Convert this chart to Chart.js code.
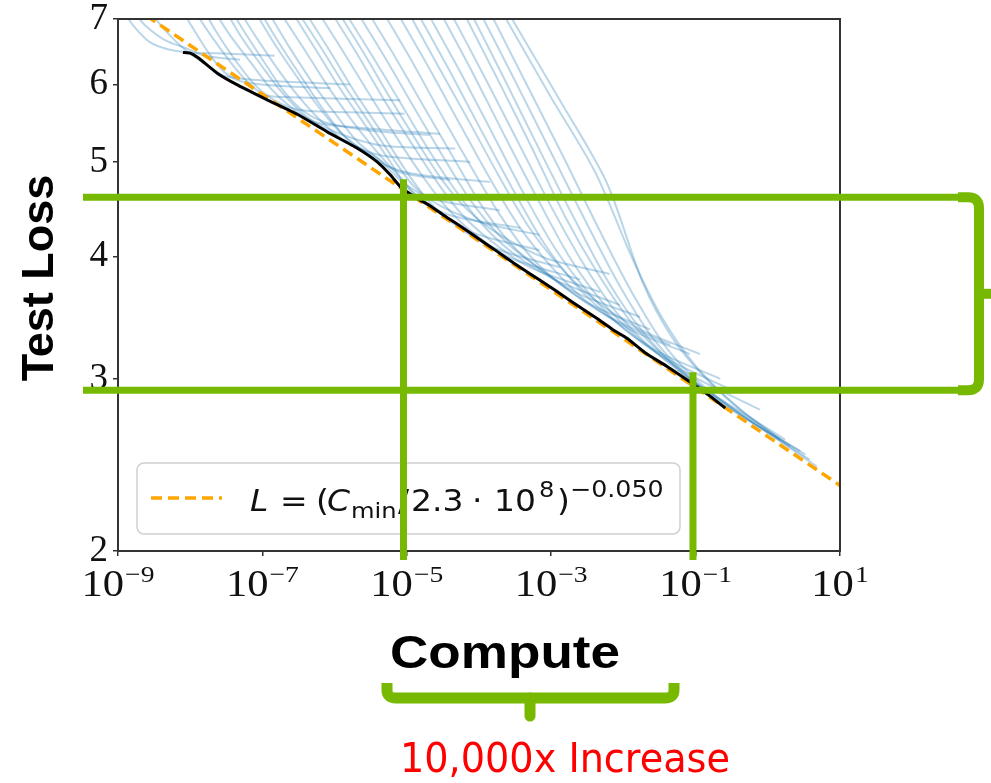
<!DOCTYPE html>
<html>
<head>
<meta charset="utf-8">
<script src="https://cdn.jsdelivr.net/npm/chart.js@4.4.1/dist/chart.umd.min.js"></script>
<style>
  html, body { margin: 0; padding: 0; background: #fff; }
  canvas { display: block; }
</style>
</head>
<body>
<canvas id="grafico" width="991" height="783"></canvas>
<script>
// compute is kept as log10(compute), loss as is
const xTickExps = [-9, -7, -5, -3, -1, 1];
const yTicks = [2, 3, 4, 5, 6, 7];

// power law fit shown in the legend: L = (C / 2.3e8) ^ -0.050
const fitScale = 2.3e8;
const fitExponent = 0.050;

// lower envelope of all runs
const frontier = [
  [-8.10, 6.47], [-8.00, 6.46], [-7.89, 6.39], [-7.61, 6.15], [-7.34, 5.99], [-6.92, 5.78],
  [-6.51, 5.59], [-6.09, 5.36], [-5.68, 5.16], [-5.41, 5.00], [-5.23, 4.85], [-5.07, 4.70],
  [-4.86, 4.59], [-4.68, 4.51], [-4.45, 4.39], [-4.22, 4.28], [-3.98, 4.16], [-3.75, 4.05],
  [-3.52, 3.94], [-3.29, 3.84], [-3.05, 3.74], [-2.84, 3.65], [-2.60, 3.55], [-2.37, 3.46],
  [-2.15, 3.37], [-1.95, 3.30], [-1.70, 3.19], [-1.40, 3.09], [-1.08, 2.98], [-0.80, 2.88],
  [-0.59, 2.80]
];

// learning curves, one per model size
const runs = [
  [[-8.92, 7.12], [-8.78, 6.88], [-8.56, 6.63], [-8.28, 6.51], [-8.00, 6.47], [-7.45, 6.45], [-6.83, 6.42]],
  [[-8.79, 7.12], [-8.61, 6.88], [-8.35, 6.66], [-8.07, 6.54], [-7.80, 6.42], [-7.31, 6.36]],
  [[-8.56, 7.12], [-8.35, 6.82], [-8.07, 6.51], [-7.80, 6.30], [-7.52, 6.12], [-7.03, 6.06], [-6.48, 6.03], [-5.79, 6.00]],
  [[-8.10, 7.12], [-7.93, 6.79], [-7.73, 6.44], [-7.52, 6.17], [-7.24, 6.03], [-6.62, 5.97], [-6.06, 5.95]],
  [[-7.93, 7.12], [-7.80, 6.88], [-7.59, 6.54], [-7.38, 6.24], [-7.17, 6.00], [-6.96, 5.85], [-6.48, 5.82], [-5.09, 5.78]],
  [[-7.80, 7.12], [-7.61, 6.74], [-7.38, 6.36], [-7.10, 5.99], [-6.83, 5.78], [-6.48, 5.65], [-5.79, 5.62], [-5.03, 5.60]],
  [[-7.66, 7.12], [-7.45, 6.74], [-7.17, 6.33], [-6.89, 5.95], [-6.62, 5.70], [-6.27, 5.49], [-5.65, 5.42], [-4.54, 5.34]],
  [[-7.50, 7.12], [-7.28, 6.69], [-7.01, 6.27], [-6.73, 5.89], [-6.41, 5.58], [-6.06, 5.39], [-5.37, 5.20], [-4.33, 5.16]],
  [[-7.42, 7.12], [-7.21, 6.72], [-6.96, 6.30], [-6.69, 5.89], [-6.41, 5.62], [-6.06, 5.47], [-5.37, 5.37], [-4.68, 5.33]],
  [[-7.31, 7.12], [-7.06, 6.66], [-6.76, 6.18], [-6.48, 5.81], [-6.17, 5.49], [-5.86, 5.26], [-5.37, 5.08], [-4.12, 5.00]],
  [[-7.10, 7.12], [-6.83, 6.60], [-6.53, 6.12], [-6.23, 5.70], [-5.93, 5.37], [-5.65, 5.16], [-5.30, 4.96], [-4.82, 4.85], [-3.85, 4.77]],
  [[-7.03, 7.12], [-6.76, 6.60], [-6.45, 6.09], [-6.13, 5.62], [-5.81, 5.26], [-5.48, 5.08], [-5.09, 4.88], [-4.40, 4.79]],
  [[-6.92, 7.12], [-6.62, 6.54], [-6.31, 6.03], [-5.99, 5.60], [-5.68, 5.24], [-5.37, 5.02], [-5.09, 4.79], [-4.68, 4.59], [-3.71, 4.46]],
  [[-6.76, 7.12], [-6.45, 6.57], [-6.13, 6.03], [-5.79, 5.55], [-5.48, 5.19], [-5.16, 4.88], [-4.82, 4.59], [-4.40, 4.41], [-3.43, 4.28]],
  [[-6.59, 7.12], [-6.26, 6.51], [-5.93, 5.95], [-5.59, 5.47], [-5.26, 5.04], [-4.96, 4.68], [-4.61, 4.48], [-4.12, 4.24], [-3.16, 4.06]],
  [[-6.51, 7.12], [-6.17, 6.51], [-5.84, 5.95], [-5.51, 5.47], [-5.19, 5.04], [-4.90, 4.72], [-4.54, 4.51], [-3.99, 4.34], [-3.16, 4.21]],
  [[-6.41, 7.12], [-6.06, 6.48], [-5.72, 5.89], [-5.37, 5.39], [-5.03, 4.92], [-4.71, 4.57], [-4.33, 4.31], [-3.78, 4.08], [-2.88, 3.90]],
  [[-6.23, 7.12], [-5.88, 6.48], [-5.51, 5.85], [-5.15, 5.31], [-4.82, 4.88], [-4.47, 4.51], [-4.10, 4.24], [-3.57, 3.99], [-2.60, 3.79]],
  [[-6.05, 7.12], [-5.69, 6.45], [-5.33, 5.81], [-4.96, 5.26], [-4.60, 4.79], [-4.24, 4.42], [-3.85, 4.16], [-3.29, 3.90], [-2.32, 3.68]],
  [[-5.95, 7.12], [-5.59, 6.45], [-5.23, 5.81], [-4.87, 5.26], [-4.51, 4.79], [-4.15, 4.46], [-3.71, 4.21], [-3.09, 3.99], [-2.19, 3.84]],
  [[-5.86, 7.12], [-5.48, 6.42], [-5.09, 5.75], [-4.71, 5.16], [-4.33, 4.68], [-3.96, 4.32], [-3.54, 4.04], [-2.95, 3.79], [-2.05, 3.57]],
  [[-5.69, 7.12], [-5.30, 6.39], [-4.91, 5.70], [-4.51, 5.08], [-4.12, 4.57], [-3.71, 4.20], [-3.27, 3.94], [-2.67, 3.68], [-1.77, 3.47]],
  [[-5.54, 7.12], [-5.14, 6.36], [-4.72, 5.62], [-4.32, 5.00], [-3.92, 4.46], [-3.50, 4.08], [-3.04, 3.83], [-2.44, 3.57], [-1.63, 3.37]],
  [[-5.33, 7.12], [-4.91, 6.30], [-4.50, 5.55], [-4.08, 4.90], [-3.68, 4.38], [-3.27, 3.99], [-2.81, 3.72], [-2.19, 3.47], [-1.35, 3.25]],
  [[-5.14, 7.12], [-4.71, 6.27], [-4.28, 5.49], [-3.85, 4.81], [-3.43, 4.28], [-2.99, 3.90], [-2.53, 3.61], [-1.91, 3.37], [-1.08, 3.18]],
  [[-4.98, 7.12], [-4.57, 6.27], [-4.15, 5.52], [-3.74, 4.86], [-3.32, 4.30], [-2.88, 3.91], [-2.39, 3.61], [-1.77, 3.37], [-0.94, 3.18]],
  [[-4.86, 7.12], [-4.43, 6.24], [-3.99, 5.42], [-3.54, 4.70], [-3.11, 4.14], [-2.67, 3.75], [-2.19, 3.47], [-1.56, 3.21], [-0.66, 3.00]],
  [[-4.72, 7.12], [-4.26, 6.18], [-3.81, 5.34], [-3.36, 4.61], [-2.93, 4.06], [-2.49, 3.68], [-1.98, 3.37], [-1.38, 3.14], [-0.45, 2.91]],
  [[-4.54, 7.12], [-4.08, 6.15], [-3.63, 5.29], [-3.18, 4.57], [-2.74, 3.99], [-2.30, 3.60], [-1.77, 3.29], [-1.15, 3.05], [-0.11, 2.79]],
  [[-4.40, 7.12], [-3.93, 6.12], [-3.46, 5.24], [-3.00, 4.50], [-2.56, 3.94], [-2.10, 3.51], [-1.56, 3.20], [-0.94, 2.95], [0.24, 2.60]],
  [[-4.22, 7.12], [-3.75, 6.09], [-3.28, 5.19], [-2.81, 4.40], [-2.35, 3.84], [-1.88, 3.42], [-1.35, 3.12], [-0.73, 2.86], [0.52, 2.51]],
  [[-4.12, 7.12], [-3.64, 6.06], [-3.16, 5.14], [-2.67, 4.36], [-2.21, 3.77], [-1.73, 3.35], [-1.19, 3.05], [-0.55, 2.82], [0.68, 2.44]],
  [[-3.99, 7.12], [-3.49, 6.03], [-2.99, 5.09], [-2.49, 4.30], [-2.02, 3.70], [-1.55, 3.27], [-1.01, 2.98], [-0.39, 2.76], [0.58, 2.48]],
  [[-3.85, 7.12], [-3.34, 6.00], [-2.82, 5.04], [-2.32, 4.24], [-1.84, 3.63], [-1.38, 3.21], [-0.87, 2.94], [-0.25, 2.72], [0.45, 2.53]],
  [[-3.63, 7.18], [-2.88, 5.78], [-2.23, 4.76], [-1.73, 3.76], [-1.33, 3.31], [-0.91, 3.03], [-0.36, 2.78], [0.31, 2.56]],
  [[-3.71, 7.18], [-3.02, 5.85], [-2.39, 4.88], [-1.88, 3.99], [-1.47, 3.47], [-1.01, 3.10], [-0.45, 2.82], [0.17, 2.60]]
];

// green guide lines: loss levels and compute levels
const guideLoss = [4.6, 2.92];
const guideCompute = [9e-6, 9.2e-2];

const green = '#76b900';
const blue = 'rgba(31, 119, 180, 0.3)';

const toPoints = pts => pts.map(([e, l]) => ({ x: 10 ** e, y: l }));
const fitLine = [1e-9, 10].map(c => ({ x: c, y: (c / fitScale) ** -fitExponent }));

// text drawn a little wider than the font's natural width
function wideText(ctx, text, font, tx, ty, sx) {
  ctx.save();
  ctx.font = font;
  ctx.translate(tx, ty);
  ctx.scale(sx, 1);
  ctx.fillText(text, 0, 0);
  ctx.restore();
}

// frame, tick labels with exponents, legend, titles and the green guides
const extras = {
  id: 'extras',
  afterDraw(chart) {
    const { ctx, chartArea: a, scales: { x, y } } = chart;
    ctx.save();

    // spines
    ctx.strokeStyle = '#333';
    ctx.lineWidth = 2;
    ctx.strokeRect(a.left, a.top, a.right - a.left, a.bottom - a.top);

    // x tick labels 10^k
    const sx = 1.15;
    ctx.fillStyle = '#111';
    ctx.textAlign = 'left';
    ctx.textBaseline = 'alphabetic';
    xTickExps.forEach(k => {
      const base = '10';
      const exp = (k < 0 ? '\u2212' : '') + Math.abs(k);
      ctx.font = '37px "Liberation Serif"';
      const wb = ctx.measureText(base).width * sx;
      ctx.font = '24px "Liberation Serif"';
      const we = ctx.measureText(exp).width * sx;
      const left = x.getPixelForValue(10 ** k) - (wb + we + 1) / 2;
      wideText(ctx, base, '37px "Liberation Serif"', left, 596, sx);
      wideText(ctx, exp, '24px "Liberation Serif"', left + wb + 1, 582, sx);
    });

    // legend box
    ctx.beginPath();
    ctx.roundRect(137, 463, 543, 71, 7);
    ctx.fillStyle = 'rgba(255,255,255,0.8)';
    ctx.fill();
    ctx.strokeStyle = '#d0d0d0';
    ctx.lineWidth = 1.5;
    ctx.stroke();

    ctx.setLineDash([11, 6]);
    ctx.strokeStyle = '#ffa500';
    ctx.lineWidth = 3.5;
    ctx.beginPath();
    ctx.moveTo(151, 498);
    ctx.lineTo(222, 498);
    ctx.stroke();
    ctx.setLineDash([]);

    const legendText = [
      ['L', 'italic 30px "DejaVu Sans"', 250, 511],
      ['=', '30px "DejaVu Sans"', 280, 511],
      ['(', '30px "DejaVu Sans"', 316, 511],
      ['C', 'italic 30px "DejaVu Sans"', 327, 511],
      ['min', '22px "DejaVu Sans"', 351, 518],
      ['/', '30px "DejaVu Sans"', 398, 511],
      ['2.3', '30px "DejaVu Sans"', 411, 511],
      ['\u00b7', '30px "DejaVu Sans"', 472, 511],
      ['10', '30px "DejaVu Sans"', 494, 511],
      ['8', '22px "DejaVu Sans"', 539, 497],
      [')', '30px "DejaVu Sans"', 557, 511],
      ['\u22120.050', '23px "DejaVu Sans"', 570, 497]
    ];
    ctx.fillStyle = '#111';
    legendText.forEach(([t, f, tx, ty]) => wideText(ctx, t, f, tx, ty, 1.1));

    // axis titles
    ctx.fillStyle = '#000';
    ctx.save();
    ctx.translate(53, 278);
    ctx.rotate(-Math.PI / 2);
    ctx.textAlign = 'center';
    ctx.font = 'bold 45px "Liberation Sans"';
    ctx.fillText('Test Loss', 0, 0);
    ctx.restore();

    ctx.save();
    ctx.font = 'bold 47px "Liberation Sans"';
    const wc = ctx.measureText('Compute').width;
    ctx.translate(505, 668);
    ctx.scale(230 / wc, 1);
    ctx.textAlign = 'center';
    ctx.fillText('Compute', 0, 0);
    ctx.restore();

    // green guides
    ctx.strokeStyle = green;
    ctx.lineWidth = 7;
    ctx.lineCap = 'butt';
    guideLoss.forEach(v => {
      const py = y.getPixelForValue(v);
      ctx.beginPath();
      ctx.moveTo(83, py);
      ctx.lineTo(962, py);
      ctx.stroke();
    });
    guideCompute.forEach((c, i) => {
      const px = x.getPixelForValue(c);
      const top = y.getPixelForValue(guideLoss[i]) - 18;
      ctx.beginPath();
      ctx.moveTo(px, top);
      ctx.lineTo(px, a.bottom + 9);
      ctx.stroke();
    });

    // bracket on the right spanning the two loss levels
    const y1 = y.getPixelForValue(guideLoss[0]);
    const y2 = y.getPixelForValue(guideLoss[1]);
    ctx.lineWidth = 10;
    ctx.lineJoin = 'round';
    ctx.beginPath();
    ctx.moveTo(958, y1);
    ctx.lineTo(968, y1);
    ctx.quadraticCurveTo(979, y1, 979, y1 + 11);
    ctx.lineTo(979, y2 - 11);
    ctx.quadraticCurveTo(979, y2, 968, y2);
    ctx.lineTo(958, y2);
    ctx.stroke();
    ctx.beginPath();
    ctx.moveTo(979, (y1 + y2) / 2);
    ctx.lineTo(995, (y1 + y2) / 2);
    ctx.stroke();

    // bracket under the x title
    ctx.lineWidth = 11;
    ctx.beginPath();
    ctx.moveTo(387, 683);
    ctx.lineTo(387, 690);
    ctx.quadraticCurveTo(387, 698, 396, 698);
    ctx.lineTo(665, 698);
    ctx.quadraticCurveTo(674, 698, 674, 690);
    ctx.lineTo(674, 683);
    ctx.stroke();
    ctx.lineCap = 'round';
    ctx.beginPath();
    ctx.moveTo(530, 698);
    ctx.lineTo(530, 716);
    ctx.stroke();

    // annotation
    ctx.fillStyle = '#ff0000';
    ctx.font = '40px "DejaVu Sans"';
    const wr = ctx.measureText('10,000x Increase').width;
    ctx.translate(565, 772);
    ctx.scale(330 / wr, 1);
    ctx.textAlign = 'center';
    ctx.fillText('10,000x Increase', 0, 0);

    ctx.restore();
  }
};

const datasets = [
  { label: 'frontier', data: toPoints(frontier), borderColor: '#000', borderWidth: 3, pointRadius: 0, tension: 0.15, order: 0 },
  { label: 'fit', data: fitLine, borderColor: '#ffa500', borderWidth: 3.5, borderDash: [11, 6], pointRadius: 0, order: 1 },
  ...runs.map((r, i) => ({
    label: 'run ' + (i + 1),
    data: toPoints(r),
    borderColor: blue,
    borderWidth: 2,
    pointRadius: 0,
    tension: 0.3,
    order: 2
  }))
];

new Chart(document.getElementById('grafico'), {
  type: 'line',
  data: { datasets },
  options: {
    responsive: false,
    animation: false,
    devicePixelRatio: 1,
    layout: { padding: { top: 19, right: 151, left: 0, bottom: 0 } },
    plugins: { legend: { display: false }, tooltip: { enabled: false } },
    scales: {
      x: {
        type: 'logarithmic',
        min: 1e-9,
        max: 10,
        afterBuildTicks: s => { s.ticks = xTickExps.map(k => ({ value: 10 ** k })); },
        afterFit: s => { s.height = 232; s.paddingLeft = 0; s.paddingRight = 0; },
        ticks: { callback: () => '' },
        grid: { drawOnChartArea: false, drawTicks: true, tickLength: 5, tickColor: '#333', lineWidth: 1.5 },
        border: { display: false }
      },
      y: {
        type: 'logarithmic',
        min: 2,
        max: 7,
        afterBuildTicks: s => { s.ticks = yTicks.map(v => ({ value: v })); },
        afterFit: s => { s.width = 118; s.paddingTop = 0; s.paddingBottom = 0; },
        ticks: {
          callback: v => String(v),
          font: { family: 'Liberation Serif', size: 37 },
          color: '#111',
          padding: 5
        },
        grid: { drawOnChartArea: false, drawTicks: true, tickLength: 5, tickColor: '#333', lineWidth: 1.5 },
        border: { display: false }
      }
    }
  },
  plugins: [extras]
});
</script>
</body>
</html>
